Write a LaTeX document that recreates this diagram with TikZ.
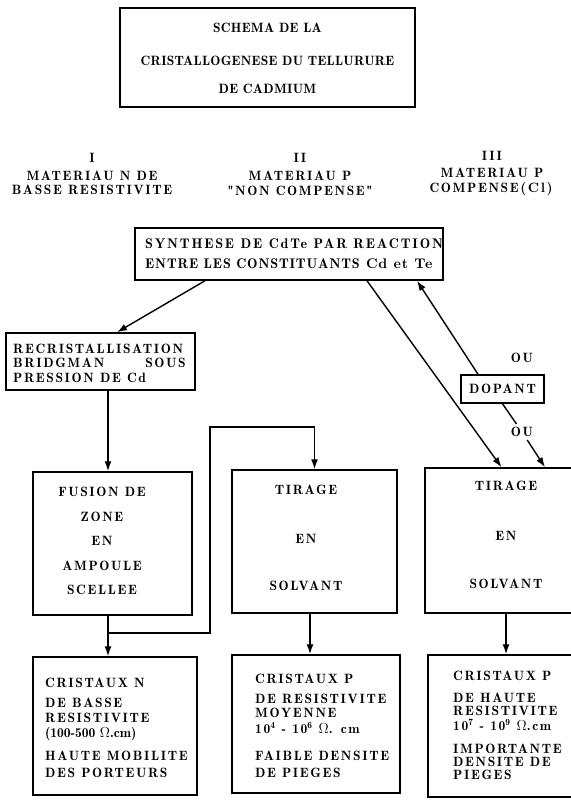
\documentclass[tikz,border=0pt]{standalone}
\usepackage{fontspec}
\newfontfamily\fA{lmromandemi10-regular.otf}[BoldFont=lmroman10-bold.otf,LetterSpace=12]
\newfontfamily\fT{lmromandemi10-regular.otf}[BoldFont=lmroman10-bold.otf,LetterSpace=2]
\newfontfamily\fS{lmromandemi10-regular.otf}[BoldFont=lmroman10-bold.otf,LetterSpace=13]
\newfontfamily\fN{lmromandemi10-regular.otf}[BoldFont=lmroman10-bold.otf,LetterSpace=6]
\newfontfamily\fZ{lmromandemi10-regular.otf}[BoldFont=lmroman10-bold.otf,LetterSpace=0]
\usetikzlibrary{arrows.meta}
\tikzset{
  box/.style={draw, line width=1.5pt, inner sep=0pt},
  txt/.style={inner sep=0pt, font=\fA\fontsize{13.5}{14}\selectfont},
  ttl/.style={inner sep=0pt, font=\fT\fontsize{13.5}{14}\selectfont},
  syn/.style={inner sep=0pt, font=\fS\fontsize{14}{14}\selectfont},
  arr/.style={line width=1.4pt, -{Latex[length=10pt,width=7pt]}},
}
\begin{document}
\begin{tikzpicture}[x=1pt,y=-1pt]
\useasboundingbox (0,0) rectangle (570,800);
% title
\node[box, minimum width=295pt, minimum height=99pt] (title) at (267.5,57.5) {};
\node[ttl, align=center, anchor=north] (titletxt) at (267.5,23)
  {SCHEMA DE LA\\[19pt]CRISTALLOGENESE DU TELLURURE\\[14pt]DE CADMIUM};
% column headers
\node[txt, align=center, anchor=north] (h1) at (92,153)
  {I\\[4pt]MATERIAU N DE\\[0pt]BASSE RESISTIVITE};
\node[txt, align=center, anchor=north] (h2) at (300,153)
  {II\\[4pt]MATERIAU P\\[1pt]"NON COMPENSE"};
\node[txt, align=center, anchor=north] (h3) at (492,151)
  {III\\[3pt]MATERIAU P\\[1pt]COMPENSE\textbf{(Cl)}};
% synthese
\node[box, minimum width=308pt, minimum height=52pt] (synth) at (289,254) {};
\node[syn, align=left, anchor=north west] (synthtxt) at (145,239)
  {SYNTHESE DE CdTe PAR REACTION\\[6pt]{\fN ENTRE LES CONSTITUANTS \textbf{Cd et Te}}};
% recristallisation
\node[box, minimum width=189pt, minimum height=57pt] (recr) at (100.5,361.5) {};
\node[txt, align=left, anchor=north west] (recrtxt) at (13,344)
  {RECRISTALLISATION\\[0pt]BRIDGMAN\hspace*{41pt}SOUS\\[1pt]PRESSION DE Cd};
% dopant
\node[box, txt, draw, line width=1.5pt, minimum width=83pt, minimum height=28pt] (dop) at (502.5,389) {DOPANT};
\node[txt] (ou1) at (522,358) {OU};
\node[txt, inner sep=3pt] (ou2) at (522,432) {OU};
% middle row
\node[box, minimum width=159pt, minimum height=143pt] (fus) at (112.5,543.5) {};
\node[txt, align=center, anchor=north] (fustxt) at (102,487)
  {FUSION DE\\[10.5pt]ZONE\\[10.5pt]EN\\[10.5pt]AMPOULE\\[10.5pt]SCELLEE};
\node[box, minimum width=165pt, minimum height=143pt] (tir2) at (314.5,541.5) {};
\node[txt, align=center, anchor=north] (tir2txt) at (306,485)
  {TIRAGE\\[35pt]EN\\[33pt]SOLVANT};
\node[box, minimum width=153pt, minimum height=145pt] (tir3) at (501.5,540.5) {};
\node[txt, align=center, anchor=north] (tir3txt) at (506,481)
  {TIRAGE\\[36pt]EN\\[34pt]SOLVANT};
% bottom row
\node[box, minimum width=164pt, minimum height=138pt] (crN) at (115,726) {};
\node[txt, align=left, anchor=north west] (crNtxt) at (45,678)
  {CRISTAUX N\\[6pt]DE BASSE\\[1pt]RESISTIVITE\\[1pt]{\fZ (100-500 $\Omega$.cm)}\\[9pt]HAUTE MOBILITE\\[3pt]DES PORTEURS};
\node[box, minimum width=168pt, minimum height=138pt] (crP2) at (316,724) {};
\node[txt, align=left, anchor=north west] (crP2txt) at (255,674)
  {CRISTAUX P\\[6pt]DE RESISTIVITE\\[0pt]MOYENNE\\[2pt]10\textsuperscript{4} - 10\textsuperscript{6} $\Omega$. cm\\[13pt]FAIBLE DENSITE\\[3pt]DE PIEGES};
\node[box, minimum width=150pt, minimum height=142pt] (crP3) at (503,726) {};
\node[txt, align=left, anchor=north west] (crP3txt) at (453,671)
  {CRISTAUX P\\[8pt]DE HAUTE\\[-1pt]RESISTIVITE\\[1pt]10\textsuperscript{7} - 10\textsuperscript{9} $\Omega$.cm\\[9pt]IMPORTANTE\\[-1pt]DENSITE DE\\[-1pt]PIEGES};
% connectors
\draw[arr] ([xshift=-84pt]synth.south) -- ([xshift=16.5pt]recr.north);
\draw[arr] ([xshift=78pt]synth.south) -- (tir3.north);
\draw[arr] ([xshift=-24.5pt]dop.north) -- ([xshift=128pt]synth.south);
\draw[arr] (dop.south) -- (ou2) -- ([xshift=43.5pt]tir3.north);
\draw[arr] ([xshift=7.5pt]recr.south) -- ([xshift=-4.5pt]fus.north);
\draw[arr] ([xshift=-4.5pt]fus.south) -- ([xshift=-7pt]crN.north);
\coordinate (j1) at (108,633);
\coordinate (j2) at (210,633);
\coordinate (j3) at (210,427);
\coordinate (j4) at (314.5,427);
\draw[arr] (j1) -- (j2) -- (j3) -- (j4) -- (tir2.north);
\draw[arr] ([xshift=-4.5pt]tir2.south) -- ([xshift=-6pt]crP2.north);
\draw[arr] ([xshift=4.5pt]tir3.south) -- ([xshift=3pt]crP3.north);
\end{tikzpicture}
\end{document}
